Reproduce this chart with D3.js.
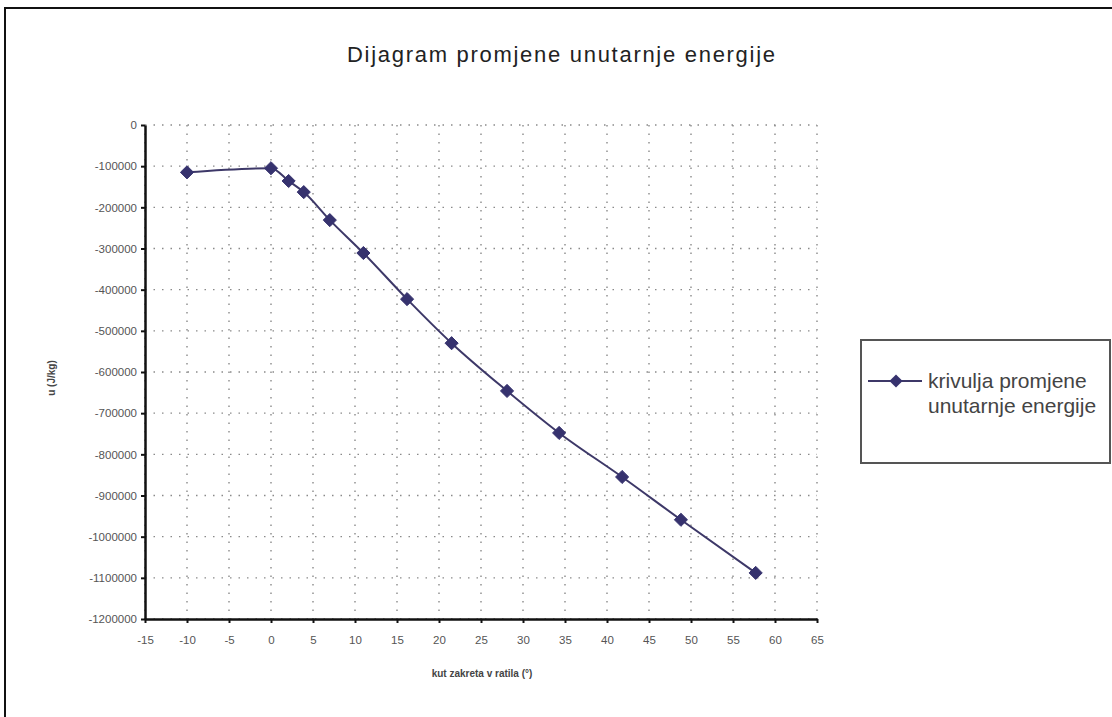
<!DOCTYPE html>
<html><head><meta charset="utf-8">
<script src="https://cdn.jsdelivr.net/npm/d3@7"></script>
<style>
html,body{margin:0;padding:0;background:#fff;}
svg{display:block;}
</style></head>
<body>
<script>
// Data
const angles = [-10, 0, 2.1, 3.9, 7.0, 11.0, 16.2, 21.5, 28.1, 34.3, 41.8, 48.8, 57.7];
const energy = [-115000, -105000, -136000, -163000, -231000, -311000, -423000, -530000, -646000, -748000, -855000, -959000, -1088000];
const xTicks = [-15,-10,-5,0,5,10,15,20,25,30,35,40,45,50,55,60,65];
const yTicks = [0,-100000,-200000,-300000,-400000,-500000,-600000,-700000,-800000,-900000,-1000000,-1100000,-1200000];
const seriesName = ["krivulja promjene", "unutarnje energije"];
const title = "Dijagram promjene unutarnje energije";
const xTitle = "kut zakreta v ratila (°)";
const yTitle = "u (J/kg)";

const W = 1112, H = 717;
const svg = d3.select("body").append("svg").attr("width", W).attr("height", H);

// outer frame
svg.append("rect").attr("x",5).attr("y",8).attr("width",W+10).attr("height",H+10)
  .attr("fill","#fff").attr("stroke","#111").attr("stroke-width",2);

const pL = 145, pR = 817, pT = 125, pB = 619;
const x = d3.scaleLinear().domain([-15,65]).range([pL,pR]);
const y = d3.scaleLinear().domain([-1200000,0]).range([pB,pT]);

// grid
const grid = svg.append("g");
grid.selectAll("line.h").data(yTicks).join("line")
  .attr("x1",pL).attr("x2",pR).attr("y1",d=>y(d)).attr("y2",d=>y(d))
  .attr("stroke","#8a8a8a").attr("stroke-width",1.4).attr("stroke-dasharray","1.5,7");
grid.selectAll("line.v").data(xTicks).join("line")
  .attr("y1",pT).attr("y2",pB).attr("x1",d=>x(d)).attr("x2",d=>x(d))
  .attr("stroke","#8a8a8a").attr("stroke-width",1.4).attr("stroke-dasharray","1.5,7");

// axes
const fontFam = "'Liberation Sans', Arial, sans-serif";
const fmt = d => String(d);
const yAxis = svg.append("g").attr("transform",`translate(${pL},0)`)
  .call(d3.axisLeft(y).tickValues(yTicks).tickSize(4).tickSizeOuter(0).tickFormat(fmt));
const xAxis = svg.append("g").attr("transform",`translate(0,${pB})`)
  .call(d3.axisBottom(x).tickValues(xTicks).tickSize(4).tickSizeOuter(0).tickFormat(fmt));
[yAxis,xAxis].forEach(a=>{
  a.select(".domain").attr("stroke","#111").attr("stroke-width",2.5);
  a.selectAll(".tick line").attr("stroke","#111").attr("stroke-width",2);
  a.selectAll(".tick text").attr("fill","#555").style("font-family",fontFam).style("font-size","11.5px");
});
yAxis.selectAll(".tick text").attr("x",-8);
xAxis.selectAll(".tick text").attr("y",17);

// line
const line = d3.line().x((d,i)=>x(angles[i])).y(d=>y(d)).curve(d3.curveMonotoneX);
svg.append("path").datum(energy).attr("d",line).attr("fill","none")
  .attr("stroke","#3d3868").attr("stroke-width",2);
const diamond = d3.symbol().type(d3.symbolDiamond2).size(110);
svg.selectAll("path.pt").data(energy).join("path")
  .attr("transform",(d,i)=>`translate(${x(angles[i])},${y(d)})`)
  .attr("d",diamond).attr("fill","#36326e").attr("stroke","#36326e").attr("stroke-width",1);

// titles
svg.append("text").attr("x",561).attr("y",62).attr("text-anchor","middle")
  .style("font-family","'Liberation Sans Narrow', 'Liberation Sans', Arial, sans-serif").style("font-size","22px")
  .attr("fill","#222").attr("textLength",428).attr("lengthAdjust","spacing").text(title);
svg.append("text").attr("x",482).attr("y",677).attr("text-anchor","middle")
  .style("font-family",fontFam).style("font-size","10px").style("font-weight","bold")
  .attr("fill","#444").text(xTitle);
svg.append("text").attr("transform","translate(55,378) rotate(-90)").attr("text-anchor","middle")
  .style("font-family",fontFam).style("font-size","10px").style("font-weight","bold")
  .attr("fill","#444").text(yTitle);

// legend
const lg = svg.append("g");
lg.append("rect").attr("x",861).attr("y",340).attr("width",249).attr("height",123)
  .attr("fill","#fff").attr("stroke","#555").attr("stroke-width",2);
lg.append("line").attr("x1",868).attr("x2",922).attr("y1",381).attr("y2",381)
  .attr("stroke","#3d3868").attr("stroke-width",2);
lg.append("path").attr("transform","translate(896,381)").attr("d",diamond).attr("fill","#36326e");
lg.selectAll("text").data(seriesName).join("text")
  .attr("x",928).attr("y",(d,i)=>388+i*25)
  .style("font-family",fontFam).style("font-size","21px").attr("fill","#444").text(d=>d);
</script>
</body></html>
